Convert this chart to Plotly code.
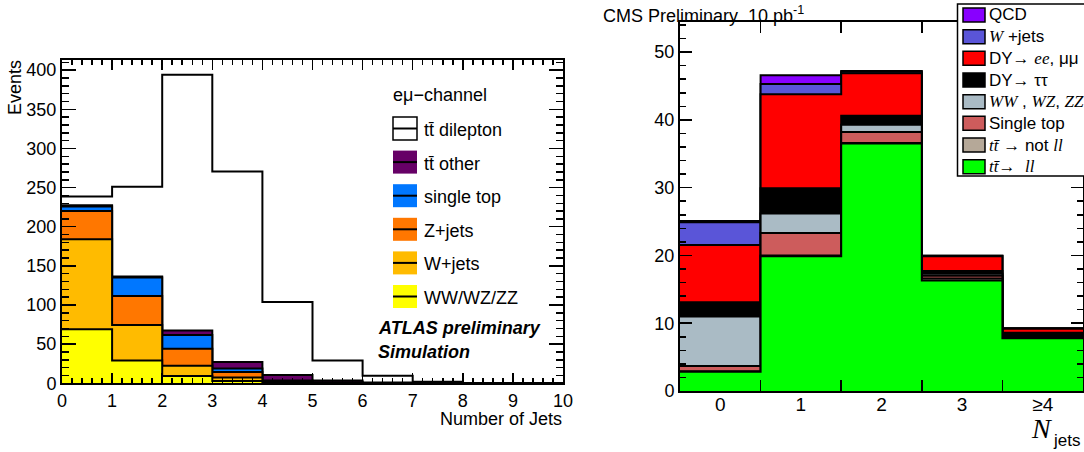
import plotly.graph_objects as go

W, H = 1084, 452

# ---------------- Left panel (ATLAS) data ----------------
atlas_edges = list(range(11))
atlas_ww = [69, 29, 9.3, 3.0, 0.5, 0.2, 0.0, 0.0, 0.0, 0.0]
atlas_wjets = [115, 45.6, 13.2, 4.5, 1.0, 0.3, 0.1, 0.0, 0.0, 0.0]
atlas_zjets = [36, 37, 21.5, 7.0, 1.0, 0.3, 0.1, 0.0, 0.0, 0.0]
atlas_singletop = [6, 23.4, 17.8, 4.5, 1.0, 0.4, 0.1, 0.0, 0.0, 0.0]
atlas_ttother = [1.6, 1.5, 5.5, 8.2, 7.0, 2.5, 0.8, 0.2, 0.0, 0.0]
atlas_ttdilep = [11, 114.5, 326.7, 243.4, 93.5, 25.3, 8.4, 1.8, 0.5, 0.1]

# ---------------- Right panel (CMS) data ----------------
cms_categories = ["0", "1", "2", "3", "≥4"]
cms_edges = [-0.5, 0.5, 1.5, 2.5, 3.5, 4.5]
cms_tt_ll = [2.85, 19.9, 36.5, 16.3, 7.8]
cms_tt_notll = [0.05, 0.1, 0.1, 0.3, 0.1]
cms_singletop = [0.8, 3.3, 1.6, 0.4, 0.2]
cms_diboson = [7.3, 2.9, 1.1, 0.3, 0.1]
cms_dy_tautau = [2.1, 3.7, 1.3, 0.4, 0.4]
cms_dy_eemm = [8.45, 13.9, 6.3, 2.2, 0.6]
cms_wjets = [3.35, 1.5, 0.2, 0.05, 0.05]
cms_qcd = [0.2, 1.3, 0.1, 0.0, 0.0]


def px(x):
    return x / W


def py(y):
    return 1 - y / H


def cumulative(layers):
    out = []
    run = [0.0] * len(layers[0])
    for lay in layers:
        run = [a + b for a, b in zip(run, lay)]
        out.append(run)
    return out


fig = go.Figure()

# Left stack (bottom -> top)
atlas_layers = [atlas_ww, atlas_wjets, atlas_zjets, atlas_singletop, atlas_ttother, atlas_ttdilep]
atlas_colors = ["#ffff00", "#ffbb00", "#ff7700", "#0077ff", "#660066", "#ffffff"]
atlas_cum = cumulative(atlas_layers)
for cum, col in reversed(list(zip(atlas_cum, atlas_colors))):
    fig.add_trace(go.Scatter(
        x=atlas_edges, y=list(cum) + [cum[-1]], mode="lines",
        line=dict(shape="hv", color="black", width=2),
        fill="tozeroy", fillcolor=col, xaxis="x", yaxis="y",
        showlegend=False, hoverinfo="skip"))

# Right stack (bottom -> top)
cms_layers = [cms_tt_ll, cms_tt_notll, cms_singletop, cms_diboson,
              cms_dy_tautau, cms_dy_eemm, cms_wjets, cms_qcd]
cms_colors = ["#00ff00", "#b5a898", "#cd5c5c", "#aabbc5",
              "#000000", "#ff0000", "#5a55d8", "#8800ff"]
cms_cum = cumulative(cms_layers)
for cum, col in reversed(list(zip(cms_cum, cms_colors))):
    fig.add_trace(go.Scatter(
        x=cms_edges, y=list(cum) + [cum[-1]], mode="lines",
        line=dict(shape="hv", color="black", width=2),
        fill="tozeroy", fillcolor=col, xaxis="x2", yaxis="y2",
        showlegend=False, hoverinfo="skip"))

# invisible trace to bind the category-label axis
fig.add_trace(go.Scatter(x=list(range(len(cms_categories))), y=cms_cum[-1],
                         mode="markers", marker=dict(opacity=0),
                         xaxis="x3", yaxis="y2", showlegend=False, hoverinfo="skip"))

FONT = "Liberation Sans, Arial, sans-serif"
SERIF = "Liberation Serif, Times New Roman, serif"

axis_common = dict(showline=True, linecolor="black", linewidth=2, mirror="ticks",
                   ticks="inside", tickcolor="black", tickwidth=1.5,
                   showgrid=False, zeroline=False, automargin=False,
                   tickfont=dict(family=FONT, size=18, color="black"))

fig.update_layout(
    template="none",
    width=W, height=H, margin=dict(l=0, r=0, t=0, b=0, pad=0),
    paper_bgcolor="white", plot_bgcolor="white",
    xaxis=dict(domain=[px(62), px(563)], range=[0, 10], anchor="y",
               tick0=0, dtick=1, ticklen=10,
               minor=dict(dtick=0.2, ticklen=5, ticks="inside", tickcolor="black", tickwidth=1.5),
               **axis_common),
    yaxis=dict(domain=[py(383.3), py(60)], range=[0, 413], anchor="x",
               tick0=0, dtick=50, ticklen=14,
               minor=dict(dtick=10, ticklen=7, ticks="inside", tickcolor="black", tickwidth=1.5),
               **axis_common),
    xaxis2=dict(domain=[px(680), px(1083)], range=[-0.5, 4.5], anchor="y2",
                tickvals=[0.5, 1.5, 2.5, 3.5], showticklabels=False, ticklen=11,
                **axis_common),
    yaxis2=dict(domain=[py(391), py(22.3)], range=[0, 54.4], anchor="x2",
                tick0=0, dtick=10, ticklen=12,
                minor=dict(dtick=2, ticklen=6, ticks="inside", tickcolor="black", tickwidth=1.5),
                **axis_common),
    xaxis3=dict(overlaying="x2", anchor="y2", range=[-0.5, 4.5],
                tickvals=list(range(len(cms_categories))), ticktext=cms_categories,
                ticks="", showline=False, showgrid=False, zeroline=False, automargin=False,
                tickfont=dict(family=FONT, size=19, color="black")),
)

shapes = []
annotations = []

# ---- Left legend ----
annotations.append(dict(x=px(391), y=py(95), xref="paper", yref="paper",
                        text="eμ−channel", showarrow=False, xanchor="left", yanchor="middle",
                        font=dict(family=FONT, size=18, color="black")))
left_entries = [("tt̄ dilepton", "#ffffff", True),
                ("tt̄ other", "#660066", False),
                ("single top", "#0077ff", False),
                ("Z+jets", "#ff7700", False),
                ("W+jets", "#ffbb00", False),
                ("WW/WZ/ZZ", "#ffff00", False)]
for i, (label, col, border) in enumerate(left_entries):
    cy = 128.5 + 33.6 * i
    shapes.append(dict(type="rect", xref="paper", yref="paper",
                       x0=px(393), x1=px(417), y0=py(cy + 11.5), y1=py(cy - 11.5),
                       fillcolor=col,
                       line=dict(color="black", width=1.5) if border else dict(width=0),
                       layer="above"))
    shapes.append(dict(type="line", xref="paper", yref="paper",
                       x0=px(393), x1=px(417), y0=py(cy), y1=py(cy),
                       line=dict(color="black", width=2), layer="above"))
    annotations.append(dict(x=px(422), y=py(cy + 1.5), xref="paper", yref="paper",
                            text=label, showarrow=False, xanchor="left", yanchor="middle",
                            font=dict(family=FONT, size=18, color="black")))

annotations.append(dict(x=px(376), y=py(328), xref="paper", yref="paper",
                        text="<b><i>ATLAS preliminary</i></b>", showarrow=False,
                        xanchor="left", yanchor="middle",
                        font=dict(family=FONT, size=18, color="black")))
annotations.append(dict(x=px(376), y=py(352), xref="paper", yref="paper",
                        text="<b><i>Simulation</i></b>", showarrow=False,
                        xanchor="left", yanchor="middle",
                        font=dict(family=FONT, size=18, color="black")))

# axis titles left
annotations.append(dict(x=px(15), y=py(88), xref="paper", yref="paper",
                        text="Events", textangle=-90, showarrow=False,
                        xanchor="center", yanchor="middle",
                        font=dict(family=FONT, size=18, color="black")))
annotations.append(dict(x=px(564), y=py(419), xref="paper", yref="paper",
                        text="Number of Jets", showarrow=False,
                        xanchor="right", yanchor="middle",
                        font=dict(family=FONT, size=18, color="black")))

# ---- Right panel texts ----
annotations.append(dict(x=px(601), y=py(14), xref="paper", yref="paper",
                        text="CMS Preliminary  10 pb<sup>-1</sup>", showarrow=False,
                        xanchor="left", yanchor="middle",
                        font=dict(family=FONT, size=18, color="black")))
annotations.append(dict(x=px(1029), y=py(428), xref="paper", yref="paper",
                        text="<i>N</i>", showarrow=False, xanchor="left", yanchor="middle",
                        font=dict(family=SERIF, size=28, color="black")))
annotations.append(dict(x=px(1051), y=py(440), xref="paper", yref="paper",
                        text="jets", showarrow=False, xanchor="left", yanchor="middle",
                        font=dict(family=FONT, size=17, color="black")))

# ---- Right legend ----
shapes.append(dict(type="rect", xref="paper", yref="paper",
                   x0=px(957.5), x1=px(1100), y0=py(176), y1=py(4),
                   fillcolor="white", line=dict(color="black", width=1.5), layer="above"))


def it(s):
    return "<span style='font-family:Liberation Serif;font-style:italic'>" + s + "</span>"


right_entries = [("QCD", "#8800ff"),
                 (it("W") + " +jets", "#5a55d8"),
                 ("DY→ " + it("ee") + ", μμ", "#ff0000"),
                 ("DY→ ττ", "#000000"),
                 (it("WW") + " , " + it("WZ") + ", " + it("ZZ"), "#aabbc5"),
                 ("Single top", "#cd5c5c"),
                 (it("tt̄") + " → not " + it("ll"), "#b5a898"),
                 (it("tt̄") + "→  " + it("ll"), "#00ff00")]
for i, (label, col) in enumerate(right_entries):
    cy = 15 + 21.67 * i
    shapes.append(dict(type="rect", xref="paper", yref="paper",
                       x0=px(963), x1=px(985), y0=py(cy + 7), y1=py(cy - 7),
                       fillcolor=col, line=dict(color="black", width=1.5), layer="above"))
    annotations.append(dict(x=px(987), y=py(cy), xref="paper", yref="paper",
                            text=label, showarrow=False, xanchor="left", yanchor="middle",
                            font=dict(family=FONT, size=17, color="black")))

fig.update_layout(shapes=shapes, annotations=annotations)

fig.write_html("out.html", config={"displayModeBar": False, "staticPlot": True},
               post_script="document.body.style.margin='0';document.body.style.overflow='hidden';")
